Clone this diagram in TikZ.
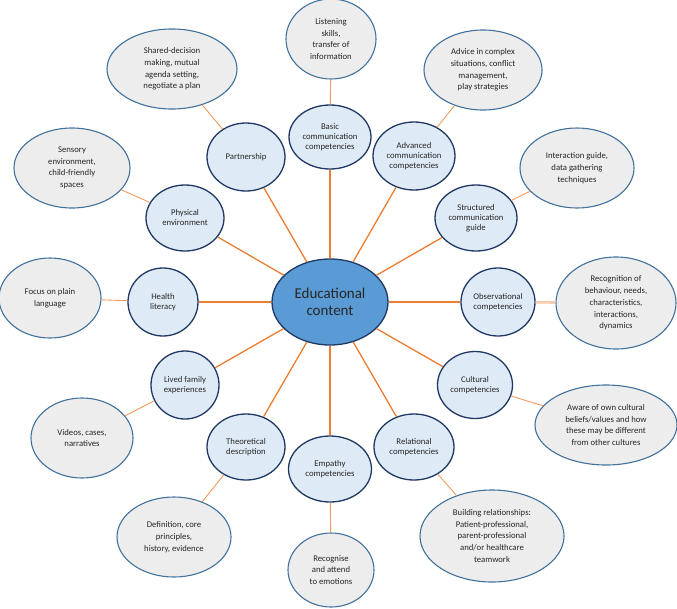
\documentclass[tikz,border=0pt]{standalone}
\usepackage{fontspec}
\setmainfont{Carlito}
\usetikzlibrary{shapes.geometric}
\definecolor{hubfill}{HTML}{5B9BD5}
\definecolor{hubline}{HTML}{1F3864}
\definecolor{midfill}{HTML}{DEEBF7}
\definecolor{midline}{HTML}{1F3864}
\definecolor{leaffill}{HTML}{EDEDED}
\definecolor{leafline}{HTML}{41719C}
\definecolor{spokec}{HTML}{ED7D31}
\definecolor{twigc}{HTML}{F19A5C}
\definecolor{peach}{HTML}{F8CBAD}
\definecolor{textc}{HTML}{262626}
\tikzset{
  hub/.style={ellipse, draw=hubline, line width=1.3pt, fill=hubfill, inner sep=0pt,
    font=\fontsize{15}{17.5}\selectfont, text=textc, align=center},
  mid/.style={ellipse, draw=midline, line width=1.3pt, fill=midfill, inner sep=0pt,
    font=\fontsize{8.7}{10}\selectfont, text=textc, align=center},
  leaf/.style={ellipse, draw=leafline, line width=1.1pt, fill=leaffill, inner sep=0pt,
    font=\fontsize{8.7}{11.7}\selectfont, text=textc, align=center},
  spoke/.style={draw=spokec, line width=1.3pt},
  twig/.style={draw=twigc, line width=0.9pt},
  thicktwig/.style={draw=peach, line width=2.6pt},
  sz/.style 2 args={minimum width=#1pt, minimum height=#2pt}
}
\begin{document}
\begin{tikzpicture}[x=1pt,y=-1pt]
\useasboundingbox (0,0) rectangle (677,608);
% hub
\node[hub, sz={116}{86}] (hub) at (330,302) {Educational\\content};
% middle ring
\node[mid, sz={78}{68}] (part) at (246,157) {Partnership};
\node[mid, sz={82}{64}] (basic) at (330,137) {Basic\\communication\\competencies};
\node[mid, sz={82}{68}] (adv) at (414,156) {Advanced\\communication\\competencies};
\node[mid, sz={82}{66}] (struct) at (476,218) {Structured\\communication\\guide};
\node[mid, sz={74}{68}] (obs) at (498,302) {Observational\\competencies};
\node[mid, sz={75}{67}] (cult) at (475,385) {Cultural\\competencies};
\node[mid, sz={80}{66}] (rel) at (414,447) {Relational\\competencies};
\node[mid, sz={83}{66}] (emp) at (330,469) {Empathy\\competencies};
\node[mid, sz={78}{66}] (theo) at (246,447) {Theoretical\\description};
\node[mid, sz={68}{68}] (lived) at (185,385) {Lived family\\experiences};
\node[mid, sz={70}{68}] (health) at (163,302) {Health\\literacy};
\node[mid, sz={78}{66}] (phys) at (185,218) {Physical\\environment};
% outer ring
\node[leaf, sz={90}{80}] (listen) at (331,39) {Listening\\skills,\\transfer of\\information};
\node[leaf, sz={130}{80}] (shared) at (172,69) {Shared-decision\\making, mutual\\agenda setting,\\negotiate a plan};
\node[leaf, sz={118}{80}] (advice) at (483,70) {Advice in complex\\situations, conflict\\management,\\play strategies};
\node[leaf, sz={114}{80}] (inter) at (577,168) {Interaction guide,\\data gathering\\techniques};
\node[leaf, sz={116}{80}] (sensory) at (72,168) {Sensory\\environment,\\child-friendly\\spaces};
\node[leaf, sz={102}{80}] (focus) at (50,298) {Focus on plain\\language};
\node[leaf, sz={120}{92}] (recog) at (616,303) {Recognition of\\behaviour, needs,\\characteristics,\\interactions,\\dynamics};
\node[leaf, sz={142}{80}] (aware) at (606,425) {Aware of own cultural\\beliefs/values and how\\these may be different\\from other cultures};
\node[leaf, sz={102}{80}] (videos) at (82,438) {Videos, cases,\\narratives};
\node[leaf, sz={114}{80}] (defin) at (174,537) {Definition, core\\principles,\\history, evidence};
\node[leaf, sz={86}{74}] (recogn) at (331,570) {Recognise\\and attend\\to emotions};
\node[leaf, sz={144}{92}] (build) at (492,536) {Building relationships:\\Patient-professional,\\parent-professional\\and/or healthcare\\teamwork};
% spokes
\foreach \n in {part,basic,adv,struct,obs,cult,rel,emp,theo,lived,health,phys}
  \draw[spoke] (hub) -- (\n);
% twigs
\draw[twig] (listen) -- (basic);
\draw[twig] (shared) -- (part);
\draw[twig] (advice) -- (adv);
\draw[twig] (inter) -- (struct);
\draw[twig] (sensory) -- (phys);
\draw[twig] (focus) -- (health);
\draw[thicktwig] (recog) -- (obs);
\draw[twig] (aware) -- (cult);
\draw[twig] (videos) -- (lived);
\draw[twig] (defin) -- (theo);
\draw[twig] (recogn) -- (emp);
\draw[twig] (build) -- (rel);
\end{tikzpicture}
\end{document}
